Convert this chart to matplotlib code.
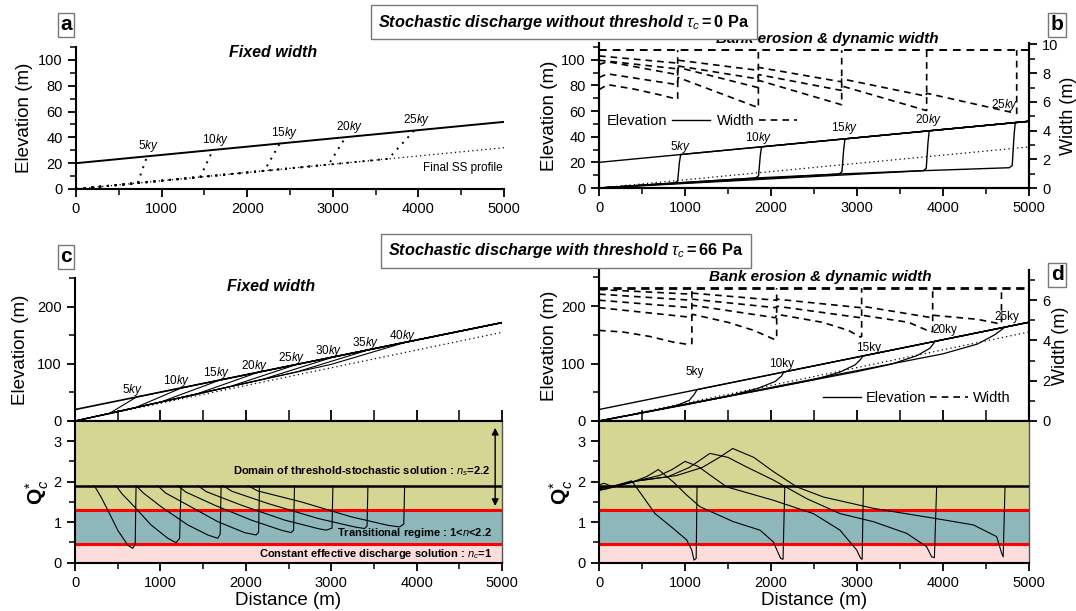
import matplotlib
matplotlib.use('Agg')
import matplotlib.pyplot as plt
from matplotlib.lines import Line2D
from matplotlib.ticker import MultipleLocator

plt.rcParams['font.family'] = ['Liberation Sans', 'DejaVu Sans']
plt.rcParams['mathtext.fontset'] = 'custom'
plt.rcParams['mathtext.rm'] = 'Liberation Sans'
plt.rcParams['mathtext.it'] = 'Liberation Sans:italic'
plt.rcParams['mathtext.bf'] = 'Liberation Sans:bold'

# ---------------- data ----------------
dist = [0, 5000]

# panel a : fixed width, tau_c = 0
a_init = [20, 52]
a_ss = [0, 32]
a_xb = [720, 1450, 2200, 2950, 3650]
a_yb = [4.6, 9.3, 14.1, 18.9, 23.4]
a_xt = [830, 1600, 2380, 3150, 3950]
a_yt = [25.3, 30.2, 35.2, 40.2, 45.3]
a_lab = ['5', '10', '15', '20', '25']
a_lab_x = [845, 1636, 2442, 3200, 3980]
a_lab_y = [33, 38, 43, 48, 53.5]

# panel b : bank erosion, tau_c = 0
b_init = [20, 52]
b_ss = [0, 32]
b_elev_x = [
    [0, 880, 915, 935, 950, 5000],
    [0, 880, 1820, 1855, 1875, 1890, 5000],
    [0, 1820, 2790, 2825, 2845, 2860, 5000],
    [0, 2790, 3770, 3805, 3825, 3840, 5000],
    [0, 3770, 4770, 4805, 4825, 4840, 5000],
]
b_elev_y = [
    [0, 3.9, 5.5, 20, 26.1, 52],
    [0, 3.9, 7.8, 9.5, 25, 32.1, 52],
    [0, 7.8, 10.9, 12.6, 30, 38.3, 52],
    [0, 10.9, 13.5, 15.2, 35, 44.6, 52],
    [0, 13.5, 15.8, 17.5, 40, 51.0, 52],
]
b_width_init = [9.6, 9.6]
b_width_x = [
    [0, 100, 400, 700, 900, 915, 915],
    [0, 100, 910, 920, 1850, 1853, 1853],
    [0, 100, 910, 920, 1845, 1855, 2820, 2822, 2822],
    [0, 910, 920, 1845, 1855, 2815, 2825, 3805, 3810, 3810],
    [0, 910, 920, 1845, 1855, 2815, 2825, 3800, 3810, 4850, 4857, 4857],
]
b_width_y = [
    [6.85, 7.2, 6.9, 6.5, 6.2, 6.2, 9.6],
    [7.7, 7.95, 7.2, 7.7, 5.6, 5.6, 9.6],
    [8.6, 8.8, 7.9, 8.4, 7.0, 7.5, 5.8, 5.8, 9.6],
    [8.9, 8.3, 8.5, 7.6, 7.9, 6.8, 7.1, 5.4, 5.4, 9.6],
    [9.2, 8.7, 8.9, 8.2, 8.4, 7.4, 7.6, 6.4, 6.6, 5.2, 5.2, 9.6],
]
b_lab_x = [942, 1852, 2860, 3829, 4721]
b_lab_y = [32, 39, 47, 53, 65]

# panel c : fixed width, tau_c = 66 Pa
c_init = [20, 172]
c_ss = [0, 155]
c_elev_x = [
    [0, 400, 720, 5000], [0, 700, 1250, 5000], [0, 1000, 1700, 5000],
    [0, 1400, 2150, 5000], [0, 1800, 2600, 5000], [0, 2200, 3030, 5000],
    [0, 2600, 3450, 5000], [0, 3000, 3880, 5000],
]
c_elev_y = [
    [0, 13, 41.9, 172], [0, 23, 58, 172], [0, 33, 71.7, 172],
    [0, 46, 85.4, 172], [0, 59.5, 99, 172], [0, 73, 112, 172],
    [0, 86, 124.9, 172], [0, 99, 138, 172],
]
c_lab = ['5', '10', '15', '20', '25', '30', '35', '40']
c_lab_x = [675, 1186, 1657, 2108, 2540, 2972, 3404, 3836]
c_lab_y = [55, 70, 84, 97, 110, 123, 136, 149]
c_q_x = [
    [226, 305, 383, 500, 617, 676, 705, 715],
    [480, 550, 695, 890, 1086, 1184, 1225, 1242],
    [715, 800, 1008, 1320, 1555, 1672, 1700, 1711],
    [969, 1060, 1320, 1672, 1984, 2121, 2150, 2160],
    [1203, 1300, 1633, 2062, 2414, 2531, 2560, 2570],
    [1438, 1540, 1945, 2453, 2844, 2941, 3010, 3020],
    [1731, 1840, 2258, 2844, 3273, 3390, 3420, 3430],
    [2024, 2140, 2648, 3234, 3664, 3800, 3850, 3860],
]
c_q_y = [
    [1.9, 1.62, 1.30, 0.80, 0.43, 0.35, 0.45, 1.9],
    [1.9, 1.70, 1.38, 0.93, 0.60, 0.49, 0.60, 1.9],
    [1.9, 1.72, 1.38, 0.93, 0.68, 0.60, 0.70, 1.9],
    [1.9, 1.72, 1.42, 1.01, 0.74, 0.68, 0.75, 1.9],
    [1.9, 1.74, 1.42, 1.05, 0.80, 0.74, 0.80, 1.9],
    [1.9, 1.75, 1.42, 1.05, 0.84, 0.80, 0.85, 1.9],
    [1.9, 1.76, 1.46, 1.09, 0.88, 0.84, 0.90, 1.9],
    [1.9, 1.77, 1.50, 1.13, 0.92, 0.88, 0.95, 1.9],
]

# panel d : bank erosion, tau_c = 66 Pa
d_init = [20, 172]
d_ss = [0, 155]
d_elev_x = [
    [0, 600, 900, 1050, 1110, 1140, 5000],
    [0, 1000, 1500, 1850, 2050, 2120, 2150, 5000],
    [0, 2000, 2500, 2800, 2980, 3040, 3070, 5000],
    [0, 3000, 3400, 3700, 3850, 3910, 5000],
    [0, 4000, 4400, 4600, 4690, 4720, 5000],
]
d_elev_y = [
    [0, 17, 27, 36, 47, 54.7, 172],
    [0, 28, 43, 57, 69, 78, 85.4, 172],
    [0, 57, 72, 85, 98, 107, 113.3, 172],
    [0, 86, 99, 114, 127, 138.9, 172],
    [0, 117, 134, 150, 160, 163.5, 172],
]
d_width_init = [6.6, 6.6]
d_width_x = [
    [0, 280, 590, 860, 1040, 1080, 1080],
    [0, 1070, 1085, 1500, 1800, 2040, 2066, 2066],
    [0, 1070, 1085, 2050, 2070, 2600, 2900, 3040, 3054, 3054],
    [0, 1070, 1085, 2050, 2070, 3040, 3060, 3600, 3860, 3880, 3880],
    [0, 1070, 1085, 2050, 2070, 3040, 3060, 3870, 3890, 4400, 4660, 4680, 4680],
]
d_width_y = [
    [4.5, 4.42, 4.2, 3.92, 3.8, 3.85, 6.6],
    [5.63, 5.15, 5.3, 4.9, 4.5, 4.05, 4.1, 6.6],
    [6.0, 5.63, 5.75, 5.13, 5.3, 4.9, 4.5, 4.17, 4.2, 6.6],
    [6.3, 6.0, 6.05, 5.63, 5.7, 5.13, 5.25, 4.9, 4.42, 4.45, 6.6],
    [6.53, 6.3, 6.35, 6.0, 6.05, 5.63, 5.7, 5.13, 5.25, 5.05, 4.83, 4.85, 6.6],
]
d_lab = ['5', '10', '15', '20', '25']
d_lab_x = [1116, 2124, 3131, 4023, 4741]
d_lab_y = [86, 100, 128, 158, 181]
d_q_x = [
    [0, 60, 150, 300, 380, 515, 651, 864, 1019, 1078, 1105, 1130, 1140],
    [0, 100, 250, 400, 550, 690, 860, 1019, 1174, 1562, 1872, 2027, 2112, 2140, 2160],
    [0, 200, 400, 700, 850, 1000, 1150, 1300, 1485, 2027, 2492, 2802, 2996, 3043, 3060, 3074],
    [0, 200, 450, 800, 1050, 1290, 1500, 1700, 2027, 2415, 2802, 3190, 3578, 3810, 3868, 3900, 3926],
    [0, 200, 450, 900, 1200, 1400, 1555, 1800, 2027, 2300, 2609, 3190, 3965, 4353, 4624, 4682, 4700, 4721],
]
d_q_y = [
    [1.92, 1.96, 1.88, 1.97, 2.02, 1.62, 1.21, 0.84, 0.56, 0.31, 0.06, 0.10, 1.87],
    [1.80, 1.83, 1.93, 2.0, 2.12, 2.3, 2.0, 1.67, 1.38, 1.01, 0.80, 0.51, 0.10, 0.08, 1.87],
    [1.85, 1.9, 2.0, 2.15, 2.3, 2.5, 2.38, 2.15, 1.87, 1.54, 1.21, 0.80, 0.31, 0.10, 0.08, 1.87],
    [1.78, 1.88, 2.02, 2.12, 2.35, 2.7, 2.6, 2.38, 2.04, 1.58, 1.21, 1.01, 0.72, 0.39, 0.14, 0.12, 1.87],
    [1.82, 1.9, 2.02, 2.15, 2.35, 2.6, 2.82, 2.6, 2.25, 1.87, 1.62, 1.34, 1.07, 0.93, 0.64, 0.23, 0.14, 1.87],
]

# regime bands of Q*c
q_bounds = [0, 0.45, 1.3, 3.5]
q_colors = ['#fddcdc', '#8db7bb', '#d5d594']
q_stoch = 1.9
q_red = [0.45, 1.3]

# ---------------- figure ----------------
W, H = 1076, 611
fig = plt.figure(figsize=(W / 100, H / 100), dpi=100)


def px_rect(l, t, r, b):
    return [l / W, 1 - b / H, (r - l) / W, (b - t) / H]


def style(ax, xticks_in=False):
    for s in ax.spines.values():
        s.set_linewidth(1.5)
    ax.tick_params(which='major', direction='out', length=6, width=1.3, labelsize=10.5)
    ax.tick_params(which='minor', direction='out', length=4, width=1.1)
    ax.set_xlim(0, 5000)
    ax.xaxis.set_major_locator(MultipleLocator(1000))
    ax.xaxis.set_minor_locator(MultipleLocator(500))
    if xticks_in:
        ax.tick_params(axis='x', which='both', direction='in', labelbottom=False)
        ax.tick_params(axis='x', which='major', length=8)
        ax.tick_params(axis='x', which='minor', length=8)


dash = (0, (4, 3))
lab_fs = 13.5

# ---- a ----
ax = fig.add_axes(px_rect(76, 47, 504, 189))
style(ax)
ax.spines[['top', 'right']].set_visible(False)
ax.set_ylim(0, 110)
ax.yaxis.set_major_locator(MultipleLocator(20))
ax.yaxis.set_minor_locator(MultipleLocator(10))
ax.plot(dist, a_init, color='k', lw=1.4)
ax.plot(dist, a_ss, color='k', lw=0.9, ls=(0, (1, 2.5)))
for xb, yb, xt, yt in zip(a_xb, a_yb, a_xt, a_yt):
    ax.plot([0, xb, xt], [0, yb, yt], color='k', lw=1.4, ls=(0, (1, 3)))
for t, x, y in zip(a_lab, a_lab_x, a_lab_y):
    ax.text(x, y, t + '$ky$', ha='center', va='center', fontsize=8.5)
ax.text(4980, 16, 'Final SS profile', ha='right', va='center', fontsize=8.5)
ax.text(0.46, 0.96, 'Fixed width', transform=ax.transAxes, ha='center', va='center',
        fontsize=11.5, weight='bold', style='italic')
ax.set_ylabel('Elevation (m)', fontsize=lab_fs, labelpad=4)

# ---- b ----
ax = fig.add_axes(px_rect(599, 43, 1029, 188))
style(ax)
ax.spines['top'].set_visible(False)
ax.set_ylim(0, 113)
ax.yaxis.set_major_locator(MultipleLocator(20))
ax.yaxis.set_minor_locator(MultipleLocator(10))
ax.plot(dist, b_init, color='k', lw=1.0)
ax.plot(dist, b_ss, color='k', lw=0.9, ls=(0, (1, 2.5)))
for xs, ys in zip(b_elev_x, b_elev_y):
    ax.plot(xs, ys, color='k', lw=1.0)
for t, x, y in zip(a_lab, b_lab_x, b_lab_y):
    ax.text(x, y, t + '$ky$', ha='center', va='center', fontsize=8.5)
ax.set_ylabel('Elevation (m)', fontsize=lab_fs, labelpad=2)
ax.text(0.53, 1.03, 'Bank erosion & dynamic width', transform=ax.transAxes, ha='center',
        va='center', fontsize=11, weight='bold', style='italic')
axw = ax.twinx()
style(axw)
axw.spines['top'].set_visible(False)
axw.set_ylim(0, 10.1)
axw.yaxis.set_major_locator(MultipleLocator(2))
axw.yaxis.set_minor_locator(MultipleLocator(1))
axw.plot(dist, b_width_init, color='k', lw=1.4, ls=dash)
for xs, ys in zip(b_width_x, b_width_y):
    axw.plot(xs, ys, color='k', lw=1.2, ls=dash)
axw.set_ylabel('Width (m)', fontsize=13, labelpad=1)
h = [Line2D([], [], color='k', lw=1), Line2D([], [], color='k', lw=1.2, ls=dash)]
axw.legend(h, ['Elevation', 'Width'], ncol=2, markerfirst=False, frameon=False,
           loc='center left', bbox_to_anchor=(0.005, 0.46), fontsize=10.5, handlelength=2.6,
           columnspacing=0.5, handletextpad=0.3, borderaxespad=0)

# ---- c ----
ax = fig.add_axes(px_rect(75, 278, 502, 421))
style(ax, xticks_in=True)
ax.spines[['top', 'right']].set_visible(False)
ax.set_ylim(0, 250)
ax.yaxis.set_major_locator(MultipleLocator(100))
ax.yaxis.set_minor_locator(MultipleLocator(50))
ax.plot(dist, c_init, color='k', lw=1.2)
ax.plot(dist, c_ss, color='k', lw=0.9, ls=(0, (1, 2.5)))
for xs, ys in zip(c_elev_x, c_elev_y):
    ax.plot(xs, ys, color='k', lw=0.8)
for t, x, y in zip(c_lab, c_lab_x, c_lab_y):
    ax.text(x, y, t + '$ky$', ha='center', va='center', fontsize=8.5)
ax.text(0.46, 0.94, 'Fixed width', transform=ax.transAxes, ha='center', va='center',
        fontsize=11.5, weight='bold', style='italic')
ax.set_ylabel('Elevation (m)', fontsize=lab_fs, labelpad=6)

axq = fig.add_axes(px_rect(75, 421, 502, 562.5))
style(axq)
axq.spines['right'].set_color('#555555')
axq.spines['right'].set_linewidth(1.0)
axq.set_ylim(0, 3.5)
axq.yaxis.set_major_locator(MultipleLocator(1))
axq.yaxis.set_minor_locator(MultipleLocator(0.5))
for lo, hi, col in zip(q_bounds[:-1], q_bounds[1:], q_colors):
    axq.axhspan(lo, hi, color=col, lw=0)
for q in q_red:
    axq.axhline(q, color='#ff0000', lw=2.2)
axq.axhline(q_stoch, color='k', lw=1.8)
for xs, ys in zip(c_q_x, c_q_y):
    axq.plot(xs, ys, color='k', lw=0.8)
axq.annotate('', xy=(4920, 3.4), xytext=(4920, 1.33),
             arrowprops=dict(arrowstyle='<|-|>', color='k', lw=1.0, mutation_scale=10))
axq.text(4860, 2.26, 'Domain of threshold-stochastic solution : $n_s$=2.2', ha='right',
         va='center', fontsize=8.0, weight='bold')
axq.text(4880, 0.74, 'Transitional regime : 1<$n$<2.2', ha='right', va='center',
         fontsize=8.0, weight='bold')
axq.text(4880, 0.21, 'Constant effective discharge solution : $n_c$=1', ha='right',
         va='center', fontsize=8.0, weight='bold')
axq.set_ylabel(r'$\mathbf{Q}^{*}_{c}$', fontsize=15, labelpad=2)
axq.set_xlabel('Distance (m)', fontsize=lab_fs, labelpad=2)

# ---- d ----
ax = fig.add_axes(px_rect(599, 270, 1029, 421))
style(ax, xticks_in=True)
ax.spines['top'].set_visible(False)
ax.set_ylim(0, 263)
ax.yaxis.set_major_locator(MultipleLocator(100))
ax.yaxis.set_minor_locator(MultipleLocator(50))
ax.plot(dist, d_init, color='k', lw=1.0)
ax.plot(dist, d_ss, color='k', lw=0.9, ls=(0, (1, 2.5)))
for xs, ys in zip(d_elev_x, d_elev_y):
    ax.plot(xs, ys, color='k', lw=0.9)
for t, x, y in zip(d_lab, d_lab_x, d_lab_y):
    ax.text(x, y, t + 'ky', ha='center', va='center', fontsize=8.5)
ax.set_ylabel('Elevation (m)', fontsize=lab_fs, labelpad=2)
ax.text(0.514, 0.955, 'Bank erosion & dynamic width', transform=ax.transAxes, ha='center',
        va='center', fontsize=11, weight='bold', style='italic')
axw = ax.twinx()
style(axw, xticks_in=True)
axw.spines['top'].set_visible(False)
axw.set_ylim(0, 7.5)
axw.yaxis.set_major_locator(MultipleLocator(2))
axw.yaxis.set_minor_locator(MultipleLocator(1))
axw.plot(dist, d_width_init, color='k', lw=2.0, ls=(0, (3, 2)))
for xs, ys in zip(d_width_x, d_width_y):
    axw.plot(xs, ys, color='k', lw=1.2, ls=dash)
axw.set_ylabel('Width (m)', fontsize=13, labelpad=1)
h = [Line2D([], [], color='k', lw=1), Line2D([], [], color='k', lw=1.2, ls=dash)]
axw.legend(h, ['Elevation', 'Width'], ncol=2, frameon=False, loc='center right',
           bbox_to_anchor=(0.97, 0.15), fontsize=10.5, handlelength=2.6,
           columnspacing=0.3, handletextpad=0.3, borderaxespad=0)

axq = fig.add_axes(px_rect(599, 421, 1029, 562.5))
style(axq)
axq.spines['right'].set_color('#555555')
axq.spines['right'].set_linewidth(1.0)
axq.set_ylim(0, 3.5)
axq.yaxis.set_major_locator(MultipleLocator(1))
axq.yaxis.set_minor_locator(MultipleLocator(0.5))
for lo, hi, col in zip(q_bounds[:-1], q_bounds[1:], q_colors):
    axq.axhspan(lo, hi, color=col, lw=0)
for q in q_red:
    axq.axhline(q, color='#ff0000', lw=2.2)
axq.axhline(q_stoch, color='k', lw=1.8)
for xs, ys in zip(d_q_x, d_q_y):
    axq.plot(xs, ys, color='k', lw=0.8)
axq.set_ylabel(r'$\mathbf{Q}^{*}_{c}$', fontsize=15, labelpad=2)
axq.set_xlabel('Distance (m)', fontsize=lab_fs, labelpad=2)

# ---- boxed titles and panel letters ----
box = dict(boxstyle='square,pad=0.45', fc='white', ec='#777777', lw=1.0)
fig.text(564 / W, 1 - 22 / H, r'Stochastic discharge without threshold $\tau_c\mathbf{=0\ Pa}$',
         ha='center', va='center', fontsize=11.7, weight='bold', style='italic', bbox=box)
fig.text(566 / W, 1 - 251 / H, r'Stochastic discharge with threshold $\tau_c\mathbf{=66\ Pa}$',
         ha='center', va='center', fontsize=11.7, weight='bold', style='italic', bbox=box)
lbox = dict(boxstyle='square,pad=0.12', fc='white', ec='#777777', lw=1.0)
for t, x, y in [('a', 66, 25), ('b', 1057, 25), ('c', 66, 257), ('d', 1057, 275)]:
    fig.text(x / W, 1 - y / H, t, ha='center', va='center', fontsize=15, weight='bold', bbox=lbox)

fig.savefig('out.png', dpi=100)
